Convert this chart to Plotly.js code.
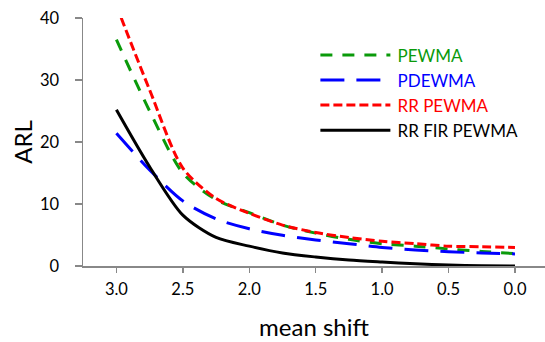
<!DOCTYPE html>
<html>
<head>
<meta charset="utf-8">
<script src="https://cdn.plot.ly/plotly-3.0.1.min.js"></script>
<style>html,body{margin:0;padding:0;background:#fff}#chart{width:545px;height:342px}</style>
</head>
<body>
<div id="chart"></div>
<script>
// mean shift values (x axis runs from 3.0 down to 0.0)
const meanShift = [3.0, 2.75, 2.5, 2.25, 2.0, 1.75, 1.5, 1.25, 1.0, 0.75, 0.5, 0.25, 0.0];
const pewma      = [36.5, 25.0, 15.0, 10.7, 8.6, 6.6, 5.3, 4.3, 3.6, 3.2, 2.75, 2.35, 2.0];
const pdewma     = [21.4, 15.5, 10.5, 7.6, 6.0, 4.95, 4.2, 3.6, 3.0, 2.6, 2.3, 2.1, 1.95];
const rrPewma    = [42.0, 28.4, 15.8, 10.9, 8.5, 6.6, 5.4, 4.6, 4.0, 3.6, 3.2, 3.1, 3.0];
const rrFirPewma = [25.2, 16.0, 8.2, 4.6, 3.2, 2.1, 1.45, 0.95, 0.63, 0.36, 0.16, 0.05, 0.0];
const xTicks = [3.0, 2.5, 2.0, 1.5, 1.0, 0.5, 0.0];
const xTickText = ['3.0', '2.5', '2.0', '1.5', '1.0', '0.5', '0.0'];
const yTicks = [0, 10, 20, 30, 40];

const FONT = 'Lato, "Open Sans", sans-serif';

function tr(y, name, color, dash) {
  return {
    x: meanShift, y: y, type: 'scatter', mode: 'lines',
    name: '<span style="color:' + color + '">\u2009' + name + '</span>',
    line: {color: color, width: 3, dash: dash, shape: 'spline', smoothing: 0.8},
    hoverinfo: 'skip'
  };
}

const data = [
  tr(pewma, 'PEWMA', '#0a9a0a', '12px,10px'),
  tr(pdewma, 'PDEWMA', '#0000ff', '24px,12px'),
  tr(rrPewma, 'RR PEWMA', '#ff0000', '9px,4px'),
  tr(rrFirPewma, 'RR FIR PEWMA', '#000000', 'solid')
];

const layout = {
  width: 545, height: 342,
  margin: {l: 83, r: 0, t: 18, b: 76, pad: 0},
  paper_bgcolor: '#fff', plot_bgcolor: '#fff',
  font: {family: FONT, size: 16.5, color: '#000'},
  showlegend: true,
  legend: {
    x: 0.503, y: 0.922, xanchor: 'left', yanchor: 'top',
    bgcolor: 'rgba(0,0,0,0)', itemwidth: 70,
    font: {family: FONT, size: 17, color: '#000'},
    tracegroupgap: 0
  },
  xaxis: {
    range: [3.2515, -0.226],
    tickvals: xTicks, ticktext: xTickText,
    showgrid: false, zeroline: false,
    showline: true, linecolor: '#888', linewidth: 1.5,
    ticks: 'outside', ticklen: 5, tickcolor: '#888', tickwidth: 1.5,
    ticklabelstandoff: 3,
    tickfont: {family: FONT, size: 16.5, color: '#000'},
    title: {text: 'mean shift', font: {family: FONT, size: 24, color: '#000'}, standoff: 21}
  },
  yaxis: {
    range: [0, 40],
    tickvals: yTicks,
    showgrid: false, zeroline: false,
    showline: true, linecolor: '#888', linewidth: 1.5,
    ticks: 'outside', ticklen: 7, tickcolor: '#888', tickwidth: 1.5,
    ticklabelstandoff: 12,
    tickfont: {family: FONT, size: 16.5, color: '#000'},
    title: {text: 'ARL', font: {family: FONT, size: 24, color: '#000'}, standoff: 0}
  }
};

Plotly.newPlot('chart', data, layout, {displayModeBar: false, staticPlot: true});
</script>
</body>
</html>
